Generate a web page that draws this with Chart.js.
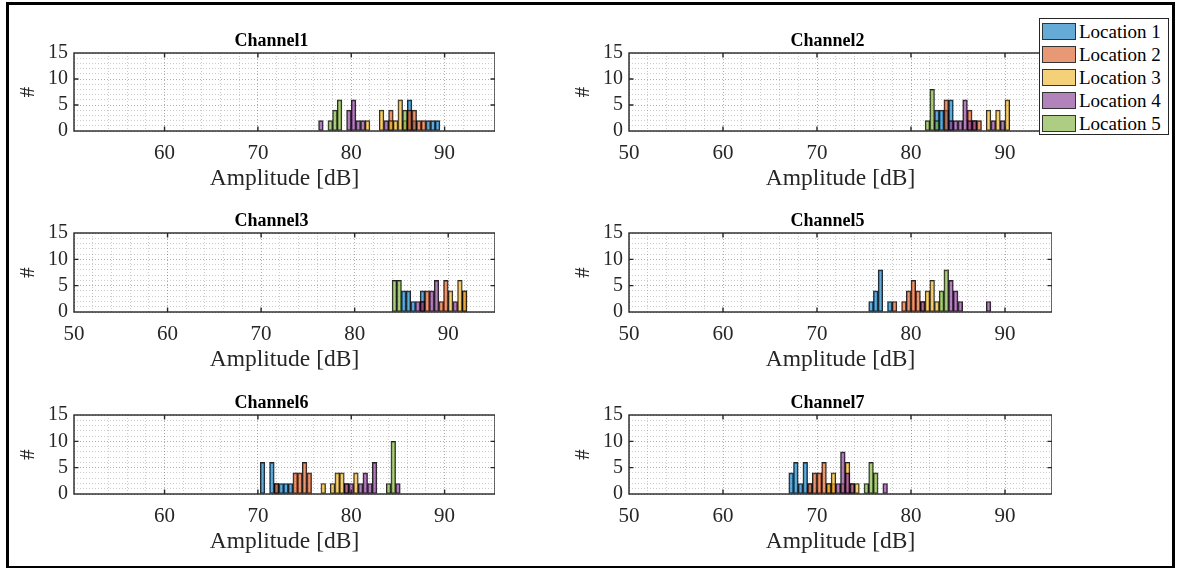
<!DOCTYPE html>
<html>
<head>
<meta charset="utf-8">
<script src="https://cdn.jsdelivr.net/npm/chart.js@4.4.1/dist/chart.umd.min.js"></script>
<style>
  body { margin: 0; background: #fff; width: 1179px; height: 568px; position: relative; overflow: hidden; font-family: "Liberation Serif", "Times New Roman", serif; }
  #frame { position: absolute; left: 6px; top: 2px; width: 1163px; height: 561px; border: 3px solid #000; }
  canvas { position: absolute; }
  .title { position: absolute; font-family: "Liberation Serif", serif; font-weight: bold; font-size: 18px; line-height: 20px; color: #000; white-space: nowrap; transform: translateX(-50%); }
  #legend { position: absolute; left: 1039px; top: 18px; width: 128px; height: 114px; border: 1px solid #262626; background: #fff; padding: 1px 0 0 0; }
  .item { height: 23px; display: flex; align-items: center; font-size: 19px; color: #000; }
  .swatch { width: 32px; height: 15px; border: 1px solid #333; margin: 0 3px 0 2px; }
</style>
</head>
<body>
<div id="frame"></div>
<canvas id="ch1" width="485" height="170" style="left:10px;top:25px"></canvas>
<canvas id="ch2" width="487" height="170" style="left:565px;top:25px"></canvas>
<canvas id="ch3" width="485" height="171" style="left:10px;top:205px"></canvas>
<canvas id="ch5" width="487" height="171" style="left:565px;top:205px"></canvas>
<canvas id="ch6" width="485" height="171" style="left:10px;top:387px"></canvas>
<canvas id="ch7" width="487" height="171" style="left:565px;top:387px"></canvas>
<div id="legend"></div>
<script>
const locationNames = ["Location 1", "Location 2", "Location 3", "Location 4", "Location 5"];
const faceColors = ["rgba(0,114,189,0.6)", "rgba(217,83,25,0.6)", "rgba(237,177,32,0.6)", "rgba(126,47,142,0.6)", "rgba(119,172,48,0.6)"];
const xTicksMajor = [50, 60, 70, 80, 90];
const yTicksMajor = [0, 5, 10, 15];

// Channel1 (bin centres, counts per location)
const ch1Bins = [76.75, 77.25, 77.75, 78.25, 78.75, 79.25, 79.75, 80.25, 80.75, 81.25, 81.75, 82.25, 82.75, 83.25, 83.75, 84.25, 84.75, 85.25, 85.75, 86.25, 86.75, 87.25, 87.75, 88.25, 88.75, 89.25];
const ch1Loc1 = [0, 0, 0, 0, 0, 0, 0, 0, 0, 0, 0, 0, 0, 0, 0, 0, 0, 0, 0, 6, 2, 0, 0, 2, 2, 2];
const ch1Loc2 = [0, 0, 0, 0, 0, 0, 0, 0, 0, 0, 0, 0, 0, 0, 0, 4, 0, 0, 0, 4, 4, 2, 2, 0, 0, 0];
const ch1Loc3 = [0, 0, 0, 0, 0, 0, 0, 0, 0, 0, 2, 0, 0, 4, 0, 2, 2, 6, 2, 0, 0, 0, 0, 0, 0, 0];
const ch1Loc4 = [2, 0, 0, 0, 0, 0, 4, 6, 2, 2, 0, 0, 0, 0, 2, 0, 0, 0, 0, 0, 0, 0, 0, 0, 0, 0];
const ch1Loc5 = [0, 0, 2, 4, 6, 0, 0, 0, 0, 0, 0, 0, 0, 0, 0, 0, 0, 0, 4, 0, 0, 0, 0, 0, 0, 0];

// Channel2
const ch2Bins = [81.75, 82.25, 82.75, 83.25, 83.75, 84.25, 84.75, 85.25, 85.75, 86.25, 86.75, 87.25, 87.75, 88.25, 88.75, 89.25, 89.75, 90.25];
const ch2Loc1 = [0, 0, 4, 4, 4, 6, 0, 0, 0, 0, 0, 0, 0, 0, 0, 0, 0, 0];
const ch2Loc2 = [0, 0, 0, 0, 6, 0, 0, 0, 0, 4, 2, 2, 0, 0, 0, 0, 0, 0];
const ch2Loc3 = [0, 0, 0, 0, 0, 0, 0, 0, 0, 0, 0, 0, 0, 4, 0, 4, 0, 6];
const ch2Loc4 = [0, 0, 0, 0, 0, 2, 2, 2, 6, 2, 2, 0, 0, 0, 2, 0, 2, 0];
const ch2Loc5 = [2, 8, 2, 0, 0, 0, 0, 0, 0, 0, 0, 0, 0, 0, 0, 0, 0, 0];

// Channel3
const ch3Bins = [84.25, 84.75, 85.25, 85.75, 86.25, 86.75, 87.25, 87.75, 88.25, 88.75, 89.25, 89.75, 90.25, 90.75, 91.25, 91.75];
const ch3Loc1 = [0, 0, 4, 4, 2, 0, 4, 0, 0, 0, 0, 0, 0, 0, 0, 0];
const ch3Loc2 = [0, 0, 0, 0, 0, 0, 2, 4, 0, 0, 2, 6, 0, 0, 0, 4];
const ch3Loc3 = [0, 0, 0, 0, 0, 0, 0, 0, 0, 0, 0, 0, 4, 0, 6, 4];
const ch3Loc4 = [0, 0, 0, 0, 0, 2, 2, 0, 4, 6, 0, 0, 0, 2, 0, 0];
const ch3Loc5 = [6, 6, 0, 0, 0, 0, 0, 0, 0, 0, 0, 0, 0, 0, 0, 0];

// Channel5
const ch5Bins = [75.75, 76.25, 76.75, 77.25, 77.75, 78.25, 78.75, 79.25, 79.75, 80.25, 80.75, 81.25, 81.75, 82.25, 82.75, 83.25, 83.75, 84.25, 84.75, 85.25, 85.75, 86.25, 86.75, 87.25, 87.75, 88.25];
const ch5Loc1 = [2, 4, 8, 0, 2, 0, 0, 0, 0, 0, 0, 0, 0, 0, 0, 0, 0, 0, 0, 0, 0, 0, 0, 0, 0, 0];
const ch5Loc2 = [0, 0, 0, 0, 0, 2, 0, 2, 4, 6, 4, 0, 0, 0, 0, 0, 0, 0, 0, 0, 0, 0, 0, 0, 0, 0];
const ch5Loc3 = [0, 0, 0, 0, 0, 0, 0, 0, 0, 0, 0, 2, 4, 6, 2, 0, 0, 0, 0, 0, 0, 0, 0, 0, 0, 0];
const ch5Loc4 = [0, 0, 0, 0, 0, 0, 0, 0, 0, 0, 0, 2, 0, 0, 0, 0, 0, 6, 4, 2, 0, 0, 0, 0, 0, 2];
const ch5Loc5 = [0, 0, 0, 0, 0, 0, 0, 0, 0, 0, 0, 0, 0, 0, 0, 4, 8, 0, 0, 0, 0, 0, 0, 0, 0, 0];

// Channel6
const ch6Bins = [70.5, 71, 71.5, 72, 72.5, 73, 73.5, 74, 74.5, 75, 75.5, 76, 76.5, 77, 77.5, 78, 78.5, 79, 79.5, 80, 80.5, 81, 81.5, 82, 82.5, 83, 83.5, 84, 84.5, 85];
const ch6Loc1 = [6, 0, 6, 2, 2, 2, 2, 0, 0, 0, 0, 0, 0, 0, 0, 0, 0, 0, 0, 0, 0, 0, 0, 0, 0, 0, 0, 0, 0, 0];
const ch6Loc2 = [0, 0, 0, 2, 0, 0, 0, 4, 4, 6, 4, 0, 0, 0, 0, 0, 0, 0, 0, 0, 0, 0, 0, 0, 0, 0, 0, 0, 0, 0];
const ch6Loc3 = [0, 0, 0, 0, 0, 0, 0, 0, 0, 0, 0, 0, 0, 2, 0, 2, 4, 4, 2, 0, 4, 0, 0, 0, 0, 0, 0, 0, 0, 0];
const ch6Loc4 = [0, 0, 0, 0, 0, 0, 0, 0, 0, 0, 0, 0, 0, 0, 0, 0, 0, 0, 2, 2, 0, 2, 4, 2, 6, 0, 0, 0, 0, 2];
const ch6Loc5 = [0, 0, 0, 0, 0, 0, 0, 0, 0, 0, 0, 0, 0, 0, 0, 0, 0, 0, 0, 0, 0, 0, 0, 0, 0, 0, 0, 2, 10, 0];

// Channel7
const ch7Bins = [67.25, 67.75, 68.25, 68.75, 69.25, 69.75, 70.25, 70.75, 71.25, 71.75, 72.25, 72.75, 73.25, 73.75, 74.25, 74.75, 75.25, 75.75, 76.25, 76.75, 77.25];
const ch7Loc1 = [4, 6, 2, 6, 2, 0, 0, 0, 0, 0, 0, 0, 0, 0, 0, 0, 0, 0, 0, 0, 0];
const ch7Loc2 = [0, 0, 0, 0, 2, 4, 4, 6, 2, 2, 0, 0, 0, 0, 0, 0, 0, 0, 0, 0, 0];
const ch7Loc3 = [0, 0, 0, 0, 0, 0, 0, 0, 2, 4, 0, 2, 6, 2, 2, 0, 0, 0, 0, 0, 0];
const ch7Loc4 = [0, 0, 0, 0, 0, 0, 0, 0, 0, 0, 2, 8, 4, 2, 0, 0, 0, 0, 0, 0, 2];
const ch7Loc5 = [0, 0, 0, 0, 0, 0, 0, 0, 0, 0, 0, 0, 0, 0, 0, 0, 2, 6, 4, 0, 0];

const serif = "'Liberation Serif', 'Times New Roman', serif";
const axisColor = "#262626";

// box around the axes + inward tick marks, like matlab
const boxAxes = {
  id: "boxAxes",
  afterDatasetsDraw(chart) {
    const { ctx, chartArea: a, scales: { x, y } } = chart;
    ctx.save();
    ctx.strokeStyle = axisColor;
    ctx.lineWidth = 1.4;
    ctx.strokeRect(a.left, a.top, a.right - a.left, a.bottom - a.top);
    ctx.beginPath();
    xTicksMajor.forEach(v => {
      if (v <= x.min || v >= x.max) return;
      const px = x.getPixelForValue(v);
      ctx.moveTo(px, a.bottom); ctx.lineTo(px, a.bottom - 4.5);
      ctx.moveTo(px, a.top); ctx.lineTo(px, a.top + 4.5);
    });
    yTicksMajor.forEach(v => {
      if (v <= y.min || v >= y.max) return;
      const py = y.getPixelForValue(v);
      ctx.moveTo(a.left, py); ctx.lineTo(a.left + 4.5, py);
      ctx.moveTo(a.right, py); ctx.lineTo(a.right - 4.5, py);
    });
    ctx.stroke();
    ctx.restore();
  }
};

function gridColor(major) {
  return function (c) {
    const v = c.tick ? c.tick.value : NaN;
    return major.includes(v) ? "rgba(0,0,0,0.32)" : "rgba(0,0,0,0.2)";
  };
}

function histChart(id, title, bins, counts, xMin, xMax) {
  const canvas = document.getElementById(id);
  const datasets = counts.map((c, k) => ({
    label: locationNames[k],
    data: bins.map((b, i) => ({ x: b, y: c[i] > 0 ? c[i] : null })),
    backgroundColor: faceColors[k],
    borderColor: "rgba(0,0,0,0.85)",
    borderWidth: 1,
    borderSkipped: false,
    grouped: false,
    barPercentage: 1,
    categoryPercentage: 1,
    order: counts.length - k
  }));

  const chart = new Chart(canvas, {
    type: "bar",
    data: { datasets },
    plugins: [boxAxes],
    options: {
      responsive: false,
      animation: false,
      layout: { padding: { left: 0, top: 28, bottom: 0, right: 0 } },
      plugins: {
        legend: { display: false },
        tooltip: { enabled: false },
        title: { display: false }
      },
      scales: {
        x: {
          type: "linear",
          min: xMin,
          max: xMax,
          offset: false,
          afterFit(s) { s.height = 64; s.paddingLeft = 0; s.paddingRight = 0; },
          grid: { offset: false, drawTicks: false, color: gridColor(xTicksMajor), lineWidth: 1, borderDash: [1, 2] },
          border: { display: false, dash: [1, 2] },
          ticks: {
            stepSize: 2,
            autoSkip: false,
            maxRotation: 0,
            padding: 10,
            color: axisColor,
            font: { family: serif, size: 21 },
            callback: v => (xTicksMajor.includes(v) ? v : "")
          },
          title: {
            display: true,
            text: "Amplitude [dB]",
            color: axisColor,
            font: { family: serif, size: 23.5 },
            padding: { top: 0, bottom: 2 }
          }
        },
        y: {
          min: 0,
          max: 15,
          afterFit(s) { s.width = 64; },
          grid: { drawTicks: false, color: gridColor(yTicksMajor), lineWidth: 1, borderDash: [1, 2] },
          border: { display: false, dash: [1, 2] },
          ticks: {
            stepSize: 1,
            autoSkip: false,
            padding: 6,
            color: axisColor,
            font: { family: serif, size: 20 },
            callback: v => (yTicksMajor.includes(v) ? v : "")
          },
          title: {
            display: true,
            text: "#",
            color: axisColor,
            font: { family: serif, size: 21 },
            padding: { top: 6, bottom: 0 }
          }
        }
      }
    }
  });

  // panel title sits a little left of the axes centre, as in the figure
  const a = chart.chartArea;
  const t = document.createElement("div");
  t.className = "title";
  t.textContent = title;
  t.style.left = (canvas.offsetLeft + (a.left + a.right) / 2 - 13) + "px";
  t.style.top = (canvas.offsetTop + a.top - 23) + "px";
  document.body.appendChild(t);
  return chart;
}

histChart("ch1", "Channel1", ch1Bins, [ch1Loc1, ch1Loc2, ch1Loc3, ch1Loc4, ch1Loc5], 50.3, 95.4);
histChart("ch2", "Channel2", ch2Bins, [ch2Loc1, ch2Loc2, ch2Loc3, ch2Loc4, ch2Loc5], 50, 95);
histChart("ch3", "Channel3", ch3Bins, [ch3Loc1, ch3Loc2, ch3Loc3, ch3Loc4, ch3Loc5], 50, 95);
histChart("ch5", "Channel5", ch5Bins, [ch5Loc1, ch5Loc2, ch5Loc3, ch5Loc4, ch5Loc5], 50, 95);
histChart("ch6", "Channel6", ch6Bins, [ch6Loc1, ch6Loc2, ch6Loc3, ch6Loc4, ch6Loc5], 50.3, 95.4);
histChart("ch7", "Channel7", ch7Bins, [ch7Loc1, ch7Loc2, ch7Loc3, ch7Loc4, ch7Loc5], 50, 95);

// legend box (top right, over the figure)
const legend = document.getElementById("legend");
locationNames.forEach((name, k) => {
  const row = document.createElement("div");
  row.className = "item";
  const sw = document.createElement("span");
  sw.className = "swatch";
  sw.style.background = faceColors[k];
  row.appendChild(sw);
  row.appendChild(document.createTextNode(name));
  legend.appendChild(row);
});
document.body.appendChild(legend);
</script>
</body>
</html>
